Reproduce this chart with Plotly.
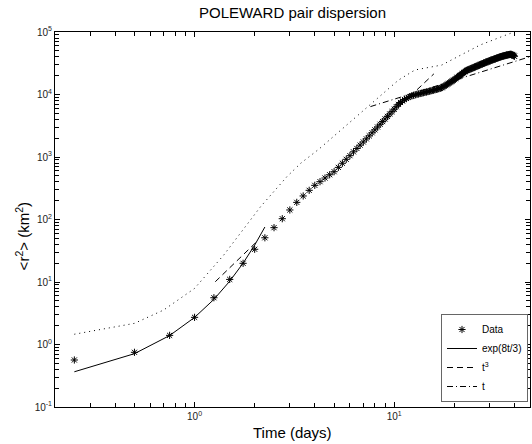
import numpy as np
import plotly.graph_objects as go

# ---- data ----
time_days = np.arange(0.25, 40.001, 0.25)
r2_data = [
    0.565, 0.75, 1.40, 2.72, 5.6, 11.0, 19.9, 33.4, 51, 74,
    103, 142, 188, 238, 293, 352, 403, 461, 520, 582,
    682, 794, 918, 1050, 1210, 1370, 1550, 1740, 1950, 2180,
    2440, 2720, 3020, 3340, 3690, 4060, 4460, 4880, 5320, 5810,
    6380, 6950, 7450, 7890, 8280, 8650, 8970, 9270, 9510, 9710,
    9890, 10050, 10210, 10380, 10520, 10670, 10810, 10970, 11120, 11270,
    11430, 11590, 11750, 11910, 12080, 12250, 12420, 12590, 12850, 13150,
    13520, 13900, 14290, 14690, 15100, 15520, 15960, 16410, 16870, 17340,
    17870, 18410, 18920, 19500, 20050, 20610, 21180, 21780, 22390, 22960,
    23610, 24160, 24490, 24890, 25240, 25590, 25940, 26300, 26670, 27040,
    27420, 27800, 28120, 28510, 28910, 29240, 29650, 30060, 30410, 30760,
    31190, 31550, 31920, 32290, 32660, 33110, 33420, 33810, 34120, 34510,
    34830, 35160, 35560, 35890, 36220, 36560, 36900, 37240, 37580, 37930,
    38280, 38640, 38990, 39360, 39720, 39990, 40270, 40550, 40830, 41120,
    41400, 41690, 41880, 42170, 42360, 42660, 42860, 43050, 43250, 43450,
    43650, 43750, 43850, 43850, 43650, 43250, 42660, 42070, 41500, 40930,
]

exp_t = [0.25, 0.5, 0.75, 1.0, 1.25, 1.5, 1.75, 2.0, 2.25]
exp_r = [0.366, 0.713, 1.39, 2.71, 5.27, 10.3, 20.0, 38.9, 75.8]

t3_low_t = [1.27, 2.06]
t3_low_r = [10.1, 45.0]
t3_high_t = [11.0, 15.8]
t3_high_r = [7200, 21400]

t1_t = [7.6, 48.0]
t1_r = [6400, 40400]

dot_t = [0.25, 0.5, 0.7, 1.0, 1.4, 2.14, 2.9, 3.4, 4.2, 6.9, 10.5, 12.7, 17.3, 26.9, 38.8, 42.0]
dot_r = [1.46, 2.18, 3.56, 7.9, 27, 160, 484, 793, 1340, 5310, 17000, 24700, 29600, 61900, 97500, 107000]

x_tick_vals = [1, 10]
x_tick_text = ["10<sup>0</sup>", "10<sup>1</sup>"]
y_tick_vals = [0.1, 1, 10, 100, 1000, 10000, 100000]
y_tick_text = ["10<sup>-1</sup>", "10<sup>0</sup>", "10<sup>1</sup>", "10<sup>2</sup>",
               "10<sup>3</sup>", "10<sup>4</sup>", "10<sup>5</sup>"]

FONT = "Liberation Sans, Arial, Helvetica, sans-serif"

fig = go.Figure()
fig.add_trace(go.Scatter(x=dot_t, y=dot_r, mode="lines",
                         line=dict(color="black", width=1, dash="1px,4px"),
                         showlegend=False, hoverinfo="skip"))
fig.add_trace(go.Scatter(x=time_days, y=r2_data, mode="markers", name="Data",
                         marker=dict(symbol="asterisk-open", size=6, color="black",
                                     line=dict(color="#111", width=1))))
fig.add_trace(go.Scatter(x=exp_t, y=exp_r, mode="lines", name="exp(8t/3)",
                         line=dict(color="black", width=1)))
fig.add_trace(go.Scatter(x=t3_low_t, y=t3_low_r, mode="lines", name="t<sup>3</sup>",
                         legendgroup="t3", line=dict(color="black", width=1, dash="6px,4px")))
fig.add_trace(go.Scatter(x=t3_high_t, y=t3_high_r, mode="lines", name="t<sup>3</sup>",
                         legendgroup="t3", showlegend=False,
                         line=dict(color="black", width=1, dash="6px,4px")))
fig.add_trace(go.Scatter(x=t1_t, y=t1_r, mode="lines", name="t",
                         line=dict(color="black", width=1, dash="6px,3px,1px,3px")))

x_minor = [v * 10 ** e for e in (-1, 0, 1) for v in range(2, 10)]
y_minor = [v * 10 ** e for e in (-1, 0, 1, 2, 3, 4) for v in range(2, 10)]

axis_common = dict(
    type="log", showline=True, linecolor="black", linewidth=1, mirror="allticks",
    ticks="inside", ticklen=5, tickcolor="black", tickwidth=1,
    showgrid=False, zeroline=False,
    tickfont=dict(family=FONT, size=10, color="#222"),
)

fig.update_layout(
    width=532, height=444,
    margin=dict(l=55, r=2, t=32, b=37),
    paper_bgcolor="white", plot_bgcolor="white",
    font=dict(family=FONT, color="black"),
    title=dict(text="POLEWARD pair dispersion", x=0.5, xref="paper", xanchor="center",
               y=1 - 13 / 444, yref="container", yanchor="middle",
               font=dict(family=FONT, size=15, color="black")),
    xaxis=dict(axis_common, range=[np.log10(0.2), 1.68],
               tickmode="array", tickvals=x_tick_vals, ticktext=x_tick_text,
               minor=dict(ticks="inside", ticklen=4, tickcolor="black",
                          tickmode="array", tickvals=x_minor, showgrid=False)),
    yaxis=dict(axis_common, range=[-1, 5],
               tickmode="array", tickvals=y_tick_vals, ticktext=y_tick_text,
               minor=dict(ticks="inside", ticklen=4, tickcolor="black",
                          tickmode="array", tickvals=y_minor, showgrid=False)),
    legend=dict(x=(528 - 55) / 475, xanchor="right", y=(407 - 402) / 375, yanchor="bottom",
                bordercolor="#666", borderwidth=1, bgcolor="white",
                font=dict(family=FONT, size=10, color="black"),
                tracegroupgap=0, itemwidth=30),
    annotations=[
        dict(text="Time (days)", x=0.5, xref="paper", y=-25 / 375, yref="paper",
             xanchor="center", yanchor="middle", showarrow=False,
             font=dict(family=FONT, size=15, color="black")),
        dict(text="&lt;r<sup>2</sup>&gt; (km<sup>2</sup>)", x=(22 - 55) / 475, xref="paper",
             y=0.455, yref="paper", xanchor="center", yanchor="middle", textangle=-90,
             showarrow=False, font=dict(family=FONT, size=15, color="black")),
    ],
)

fig.write_html("out.html")
